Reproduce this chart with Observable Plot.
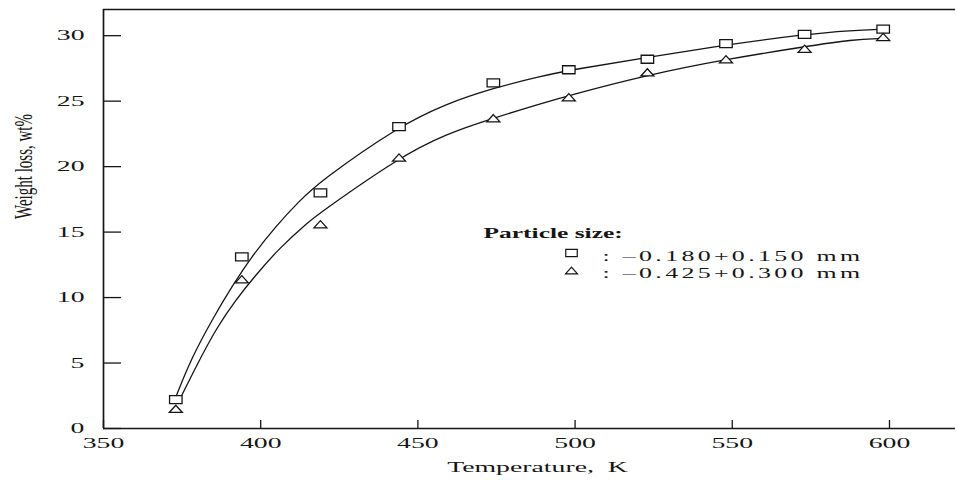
<!DOCTYPE html>
<html>
<head>
<meta charset="utf-8">
<script src="https://cdn.jsdelivr.net/npm/d3@7"></script>
<script src="https://cdn.jsdelivr.net/npm/@observablehq/plot@0.6"></script>
<style>
  body { margin: 0; background: #fff; }
  #chart svg { display: block; }
</style>
</head>
<body>
<div id="chart"></div>
<script>
// Measured weight loss (wt%) against temperature (K)
const temperatures = [373, 394, 419, 444, 474, 498, 523, 548, 573, 598];
const lossFine = [2.2, 13.1, 18.0, 23.05, 26.4, 27.4, 28.2, 29.4, 30.1, 30.5];   // -0.180+0.150 mm
const lossCoarse = [1.5, 11.4, 15.6, 20.7, 23.7, 25.3, 27.2, 28.2, 29.0, 29.9]; // -0.425+0.300 mm

// Smoothed trend curves drawn through each series
const fitFineT = [373, 378, 385, 391, 397, 405, 412, 419, 444, 459, 474, 489, 499, 523, 548, 573, 588, 598];
const fitFine = [2.4, 5.4, 8.5, 10.9, 13.1, 15.5, 17.3, 18.9, 23.1, 24.8, 26.0, 26.9, 27.4, 28.35, 29.3, 30.1, 30.4, 30.5];
const fitCoarseT = [374, 380, 386, 392, 398, 406, 415, 419, 444, 459, 474, 489, 499, 523, 548, 574, 588, 598];
const fitCoarse = [2.1, 5.0, 7.7, 9.8, 11.6, 13.8, 15.75, 16.5, 20.7, 22.5, 23.7, 24.8, 25.5, 27.0, 28.2, 29.2, 29.7, 29.8];

const xTicks = [350, 400, 450, 500, 550, 600];
const yTicks = [0, 5, 10, 15, 20, 25, 30];
const xDomain = [350, 621];
const yDomain = [0, 32];

const legendTitle = "Particle size:";
const sizeLabels = [": \u20130.180+0.150 mm", ": \u20130.425+0.300 mm"];
const xTitle = "Temperature,  K";
const yTitle = "Weight loss, wt%";

// Layout
const W = 956, H = 480;
const mL = 103, mR = 1, mT = 9, mB = 52;
const frameW = W - mL - mR, frameH = H - mT - mB;

// Open rectangle and open triangle markers, slightly wider than tall
const boxSymbol = {
  draw(ctx, size) {
    const r = Math.sqrt(size / Math.PI), w = 1.25 * r, h = 0.8 * r;
    ctx.moveTo(-w, -h); ctx.lineTo(w, -h); ctx.lineTo(w, h); ctx.lineTo(-w, h); ctx.closePath();
  }
};
const triSymbol = {
  draw(ctx, size) {
    const r = Math.sqrt(size / Math.PI), w = 1.3 * r, h = 0.72 * r;
    ctx.moveTo(0, -h); ctx.lineTo(w, h); ctx.lineTo(-w, h); ctx.closePath();
  }
};

const ink = "#151515";
const fineRows = temperatures.map((t, i) => ({t, v: lossFine[i]}));
const coarseRows = temperatures.map((t, i) => ({t, v: lossCoarse[i]}));
const fineFitRows = fitFineT.map((t, i) => ({t, v: fitFine[i]}));
const coarseFitRows = fitCoarseT.map((t, i) => ({t, v: fitCoarse[i]}));

const svg = Plot.plot({
  width: W, height: H,
  marginLeft: mL, marginRight: mR, marginTop: mT, marginBottom: mB,
  style: {fontFamily: '"Liberation Serif", "Times New Roman", serif', fontSize: "15px", color: ink, background: "#fff"},
  x: {domain: xDomain, ticks: xTicks, tickSize: 0, tickPadding: 9, label: null},
  y: {domain: yDomain, ticks: yTicks, tickSize: 0, tickPadding: 19, label: null},
  marks: [
    // axis frame: left, bottom and top edges
    Plot.ruleX([xDomain[0]], {stroke: ink, strokeWidth: 1.7}),
    Plot.ruleY([yDomain[0], yDomain[1]], {stroke: ink, strokeWidth: 1.6}),
    // inward ticks
    Plot.tickY(yTicks, {y: d => d, insetRight: frameW - 18, stroke: ink, strokeWidth: 1.3}),
    Plot.tickX(xTicks, {x: d => d, insetTop: frameH - 8, stroke: ink, strokeWidth: 1.3}),
    // trend curves
    Plot.line(fineFitRows, {x: "t", y: "v", curve: "basis", stroke: ink, strokeWidth: 1.3}),
    Plot.line(coarseFitRows, {x: "t", y: "v", curve: "basis", stroke: ink, strokeWidth: 1.3}),
    // measured points
    Plot.dot(fineRows, {x: "t", y: "v", r: 5, symbol: boxSymbol, stroke: ink, strokeWidth: 1.3, fill: "#fff"}),
    Plot.dot(coarseRows, {x: "t", y: "v", r: 5, symbol: triSymbol, stroke: ink, strokeWidth: 1.3, fill: "#fff"}),
    // axis titles
    Plot.text([xTitle], {frameAnchor: "bottom", text: d => d, dx: 8, dy: 43, lineAnchor: "bottom", fill: ink}),
    Plot.text([yTitle], {frameAnchor: "left", text: d => d, dx: -72, rotate: -90, lineAnchor: "bottom", fill: ink}),
    // legend
    Plot.text([legendTitle], {frameAnchor: "top-left", text: d => d, dx: 380, dy: 228, textAnchor: "start", lineAnchor: "bottom", fontSize: 14, fontWeight: "bold", fill: ink}),
    Plot.dot([sizeLabels[0]], {frameAnchor: "top-left", dx: 468, dy: 243.5, r: 4.6, symbol: boxSymbol, stroke: ink, strokeWidth: 1.2, fill: "#fff"}),
    Plot.dot([sizeLabels[1]], {frameAnchor: "top-left", dx: 468, dy: 261, r: 4.6, symbol: triSymbol, stroke: ink, strokeWidth: 1.2, fill: "#fff"}),
    Plot.text([sizeLabels[0]], {frameAnchor: "top-left", text: d => d, dx: 499, dy: 251.5, textAnchor: "start", lineAnchor: "bottom", fontSize: 14, fill: ink}),
    Plot.text([sizeLabels[1]], {frameAnchor: "top-left", text: d => d, dx: 499, dy: 268, textAnchor: "start", lineAnchor: "bottom", fontSize: 14, fill: ink})
  ]
});

// Widen the serif lettering along the page's horizontal, as in the printed figure;
// the legend entries are set with slightly open letter spacing.
const widen = new Map([[legendTitle, 1.82], [yTitle, 1.7]]);
svg.querySelectorAll("text").forEach(t => {
  const label = t.textContent;
  const k = widen.get(label) || 1.85;
  if (sizeLabels.includes(label)) t.style.letterSpacing = "1.8px";
  const tr = t.getAttribute("transform") || "";
  const rotated = /rotate\(\s*-90/.test(tr);
  t.setAttribute("transform", `${tr} ${rotated ? `scale(1,${k})` : `scale(${k},1)`}`);
});

document.getElementById("chart").appendChild(svg);
</script>
</body>
</html>
